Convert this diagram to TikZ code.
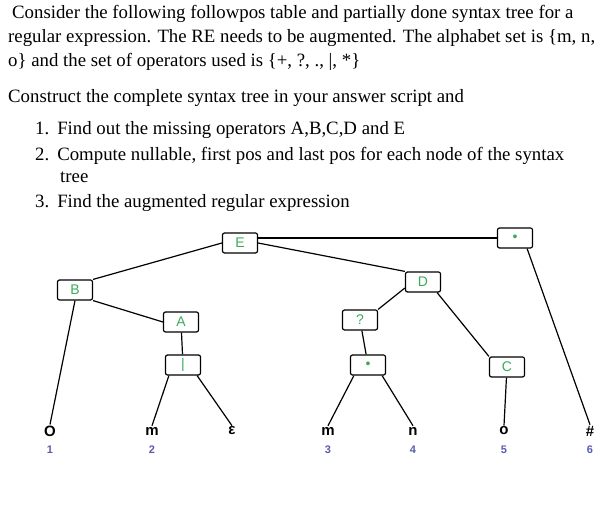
\documentclass[tikz,border=0pt]{standalone}
\usepackage{fontspec}
\setmainfont{Liberation Serif}
\newfontfamily\boxfont{Liberation Sans}
\usetikzlibrary{positioning}
\definecolor{opgreen}{RGB}{60,170,90}
\definecolor{posblue}{RGB}{90,90,175}
\tikzset{
  opbox/.style={draw,very thick,rounded corners=2pt,minimum width=35pt,minimum height=20pt,
    inner sep=0pt,font=\boxfont\fontsize{14}{14}\selectfont,text=opgreen},
  leaf/.style={font=\boxfont\bfseries\fontsize{15}{15}\selectfont,inner sep=1pt},
  posnum/.style={font=\boxfont\bfseries\fontsize{11}{11}\selectfont,text=posblue,inner sep=0pt},
  line/.style={font=\fontsize{18.8}{20}\selectfont,anchor=base west,inner sep=0pt}
}
\begin{document}
\begin{tikzpicture}[x=1pt,y=-1pt]
  \useasboundingbox (0,0) rectangle (603,510);
  % question text
  \node[line] (l1) at (12,19) {Consider the following followpos table and partially done syntax tree for a};
  \node[line] (l2) at (8,43) {regular expression. The RE needs to be augmented. The alphabet set is \{m, n,};
  \node[line] (l3) at (8,67) {o\} and the set of operators used is \{+, ?, ., |, *\}};
  \node[line] (l4) at (8,103) {Construct the complete syntax tree in your answer script and};
  \node[line] (l5) at (35,135) {1.\hspace{8pt}Find out the missing operators A,B,C,D and E};
  \node[line] (l6) at (35,161) {2.\hspace{8pt}Compute nullable, first pos and last pos for each node of the syntax};
  \node[line] (l7) at (60,183) {tree};
  \node[line] (l8) at (35,208) {3.\hspace{8pt}Find the augmented regular expression};
  % operator nodes
  \node[opbox] (E) at (240,243) {E};
  \node[opbox] (cat1) at (515,238) {\textbullet};
  \node[opbox] (B) at (75,290) {B};
  \node[opbox] (D) at (423,282) {D};
  \node[opbox] (A) at (181,322) {A};
  \node[opbox] (Q) at (360,320) {?};
  \node[opbox] (alt) at (183,365) {|};
  \node[opbox] (cat2) at (368,365) {\textbullet};
  \node[opbox] (C) at (507,367) {C};
  % leaves
  \node[leaf] (o1) at (50,431) {O};
  \node[leaf] (m2) at (152,431) {m};
  \node[leaf] (eps) at (232,431) {ε};
  \node[leaf] (m3) at (328,431) {m};
  \node[leaf] (n4) at (413,431) {n};
  \node[leaf] (o5) at (504,431) {o};
  \node[leaf] (hash) at (590,431) {\#};
  \node[posnum] (p1) at (50,450) {1};
  \node[posnum] (p2) at (152,450) {2};
  \node[posnum] (p3) at (328,450) {3};
  \node[posnum] (p4) at (413,450) {4};
  \node[posnum] (p5) at (504,450) {5};
  \node[posnum] (p6) at (590,450) {6};
  % edges
  \draw[very thick] (E.east |- cat1.west) -- (cat1.west);
  \draw[very thick] (E.west) -- (B.north east);
  \draw[very thick] (E.east) -- (D.north west);
  \draw[very thick] (B.south) -- (o1.north);
  \draw[very thick] (B.south east) -- (A.west);
  \draw[very thick] (A) -- (alt);
  \draw[very thick] (alt.south west) ++(4,0) -- (m2.north);
  \draw[very thick] (alt.south east) ++(-4,0) -- (eps.north);
  \draw[very thick] (D.west) ++(0,6) -- (Q.north east);
  \draw[very thick] (Q) -- (cat2);
  \draw[very thick] (cat2.south west) ++(4,0) -- (m3.north);
  \draw[very thick] (cat2.south east) ++(-4,0) -- (n4.north);
  \draw[very thick] (D.south east) ++(-4,0) -- (C.north west);
  \draw[very thick] (C) -- (o5.north);
  \draw[very thick] (cat1.south east) ++(-6,0) -- (hash.north);
\end{tikzpicture}
\end{document}
